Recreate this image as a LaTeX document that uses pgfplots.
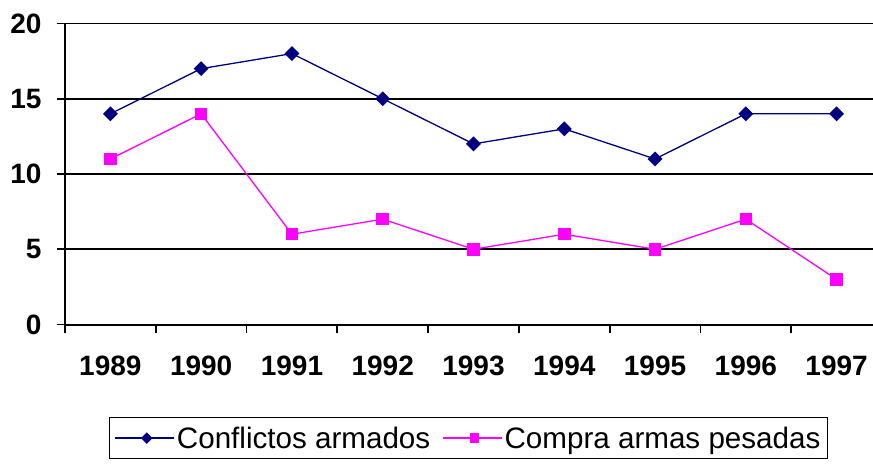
\documentclass[border=0pt]{standalone}
\usepackage{pgfplots}
\pgfplotsset{compat=1.18}
\usepackage{fontspec}
\setmainfont{Liberation Sans}
\definecolor{navyc}{RGB}{0,0,128}
\definecolor{magc}{RGB}{255,0,255}
\begin{document}
\begin{tikzpicture}
\useasboundingbox (-65pt,-139.5pt) rectangle (808pt,324.5pt);
\begin{axis}[
  at={(0pt,0pt)}, anchor=south west,
  scale only axis, width=817pt, height=301pt,
  xmin=0, xmax=9, ymin=0, ymax=20,
  axis x line*=bottom, axis y line*=left,
  x axis line style={line width=2pt, -},
  y axis line style={line width=2pt, -},
  xtick={0,...,9},
  x tick label as interval,
  xticklabels={1989,1990,1991,1992,1993,1994,1995,1996,1997},
  ytick={0,5,10,15,20},
  ymajorgrids, grid style={black, line width=1.8pt},
  major tick length=8pt,
  xtick style={black, line width=1.8pt},
  ytick style={black, line width=1.8pt},
  xtick align=outside, ytick align=outside,
  /pgf/number format/assume math mode=true,
  ticklabel style={font=\fontsize{28}{30}\selectfont\bfseries},
  xticklabel style={yshift=-20pt},
  yticklabel style={xshift=-12pt},
  legend columns=2,
  legend style={at={(44pt,-92.5pt)}, anchor=north west, draw=black, line width=1.3pt,
    font=\fontsize{29.6}{31}\selectfont, inner xsep=5pt, inner ysep=7pt,
    /tikz/every even column/.append style={column sep=10pt}},
  legend image code/.code={\path (-4pt,0pt) -- (55pt,0pt); \draw[#1, line width=1.3pt] (0pt,0pt) -- (27.5pt,0pt) (27.5pt,0pt) -- (55pt,0pt); \path[#1, only marks, every mark/.append style={scale=0.75}] plot coordinates {(27.5pt,0pt)};},
]
\addplot[navyc, line width=1.3pt, mark=square*, mark size=4.6pt, mark options={rotate=45, solid, fill=navyc}] coordinates {
(0.5,14) (1.5,17) (2.5,18) (3.5,15) (4.5,12) (5.5,13) (6.5,11) (7.5,14) (8.5,14)};
\addlegendentry{Conflictos armados}
\addplot[magc, line width=1.3pt, mark=square*, mark size=5.6pt, mark options={solid, fill=magc}] coordinates {
(0.5,11) (1.5,14) (2.5,6) (3.5,7) (4.5,5) (5.5,6) (6.5,5) (7.5,7) (8.5,3)};
\addlegendentry{Compra armas pesadas}
\end{axis}
\end{tikzpicture}
\end{document}
